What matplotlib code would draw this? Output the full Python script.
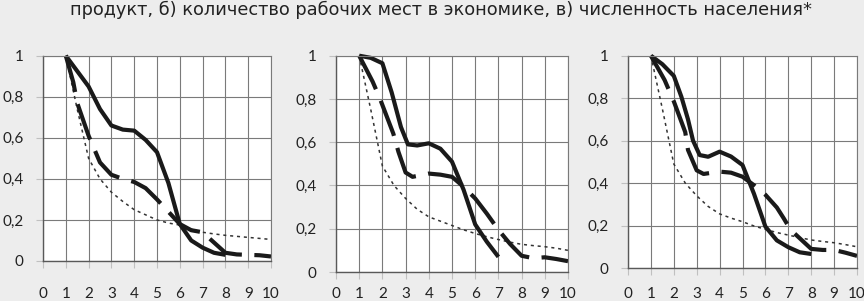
import matplotlib.pyplot as plt

title = "продукт, б) количество рабочих мест в экономике, в) численность населения*"
x_ticks = list(range(11))
y_ticks = [0, 0.2, 0.4, 0.6, 0.8, 1]
y_labels = ["0", "0,2", "0,4", "0,6", "0,8", "1"]

half = [1, 1.5, 2, 2.5, 3, 3.5, 4, 4.5, 5, 5.5, 6, 6.5, 7, 7.5, 8, 8.5, 9, 9.5, 10]

# а) panel
a_solid_x = [1, 1.5, 2, 2.5, 3, 3.5, 4, 4.5, 5, 5.5, 6, 6.5, 7, 7.5, 8]
a_solid_y = [1.0, 0.925, 0.85, 0.74, 0.66, 0.64, 0.635, 0.59, 0.53, 0.38, 0.18, 0.10, 0.065, 0.04, 0.03]
a_dash_x = [1, 1.33, 1.5, 2, 2.5, 3, 3.5, 4, 4.5, 5, 5.5, 6, 6.5, 7, 7.5, 8, 8.5, 9, 9.5, 10]
a_dash_y = [1.0, 0.87, 0.77, 0.61, 0.48, 0.42, 0.40, 0.385, 0.355, 0.30, 0.24, 0.18, 0.15, 0.14, 0.09,
            0.04, 0.032, 0.03, 0.028, 0.022]
a_dot_y = [1.0, 0.74, 0.5, 0.4, 0.335, 0.29, 0.25, 0.225, 0.2, 0.185, 0.175, 0.155, 0.14, 0.132, 0.125,
           0.12, 0.115, 0.11, 0.105]

# б) panel
b_solid_x = [1, 1.5, 2, 2.4, 2.8, 3.1, 3.5, 4, 4.5, 5, 5.5, 6, 6.5, 7]
b_solid_y = [1.0, 0.99, 0.965, 0.83, 0.67, 0.59, 0.585, 0.595, 0.57, 0.51, 0.38, 0.22, 0.14, 0.07]
b_dash_x = [1, 1.58, 1.9, 2.47, 2.69, 3, 3.3, 4, 4.5, 5, 5.5, 6, 6.5, 7, 7.5, 8, 8.5, 9, 9.5, 10]
b_dash_y = [1.0, 0.88, 0.80, 0.64, 0.556, 0.46, 0.44, 0.455, 0.45, 0.44, 0.394, 0.34, 0.27, 0.195, 0.13,
            0.075, 0.064, 0.068, 0.06, 0.05]
b_dot_y = [1.0, 0.75, 0.49, 0.4, 0.34, 0.29, 0.255, 0.235, 0.215, 0.195, 0.178, 0.163, 0.15, 0.138, 0.128,
           0.122, 0.117, 0.11, 0.10]

# в) panel
c_solid_x = [1, 1.5, 2, 2.33, 2.62, 2.84, 3.13, 3.5, 4, 4.5, 5, 5.5, 6, 6.5, 7, 7.5, 8]
c_solid_y = [1.0, 0.96, 0.905, 0.807, 0.70, 0.60, 0.532, 0.524, 0.548, 0.525, 0.485, 0.35, 0.195, 0.13,
             0.098, 0.074, 0.066]
c_dash_x = [1, 1.6, 2, 2.5, 2.62, 3, 3.3, 4, 4.5, 5, 5.5, 6, 6.5, 6.8, 7.1, 7.5, 8, 8.5, 9, 9.5, 10]
c_dash_y = [1.0, 0.885, 0.785, 0.64, 0.556, 0.46, 0.443, 0.454, 0.449, 0.43, 0.39, 0.345, 0.285, 0.234,
            0.18, 0.14, 0.09, 0.085, 0.085, 0.072, 0.057]
c_dot_y = [1.0, 0.75, 0.49, 0.4, 0.34, 0.29, 0.255, 0.235, 0.218, 0.198, 0.182, 0.167, 0.155, 0.143, 0.132,
           0.125, 0.119, 0.11, 0.10]

panels = [
    (a_solid_x, a_solid_y, a_dash_x, a_dash_y, a_dot_y),
    (b_solid_x, b_solid_y, b_dash_x, b_dash_y, b_dot_y),
    (c_solid_x, c_solid_y, c_dash_x, c_dash_y, c_dot_y),
]

W, H = 864, 301
# axes rectangles in pixels: left, bottom, width, height
rects = [(43, 40, 228, 205.3), (336, 29, 232, 216.3), (628, 33, 229, 212.3)]
xpads = [13.5, 5.8, 8.6]

bg = "#ededed"
fig = plt.figure(figsize=(W / 100, H / 100), dpi=100, facecolor=bg)

fig.text(441 / W, 1 - 10 / H, title, ha="center", va="center", fontsize=12.8,
         family=["Liberation Sans Narrow", "DejaVu Sans"], color="#222222")

for (sx, sy, dx, dy, ty), (l, b, w, h), xp in zip(panels, rects, xpads):
    ax = fig.add_axes([l / W, b / H, w / W, h / H])
    ax.set_facecolor("white")
    ax.set_xlim(0, 10)
    ax.set_ylim(0, 1)
    ax.set_xticks(x_ticks)
    ax.set_yticks(y_ticks)
    ax.set_yticklabels(y_labels)
    ax.grid(True, color="#7a7a7a", lw=0.8)
    ax.set_axisbelow(True)
    for side in ["top", "right"]:
        ax.spines[side].set_color("#7a7a7a")
        ax.spines[side].set_linewidth(0.8)
    for side in ["left", "bottom"]:
        ax.spines[side].set_color("#595959")
        ax.spines[side].set_linewidth(1.0)
    ax.tick_params(axis="both", direction="out", length=5, width=0.8, color="#c0c0c0",
                   labelsize=11, labelcolor="#222222")
    ax.tick_params(axis="y", pad=9)
    ax.tick_params(axis="x", pad=xp)
    for lab in ax.get_xticklabels() + ax.get_yticklabels():
        lab.set_family("Lato")

    ax.plot(half, ty, color="#333333", lw=1.1, dashes=(2, 2.5), clip_on=False)
    ax.plot(dx, dy, color="#1a1a1a", lw=3.0, dashes=(9, 3), dash_capstyle="butt", clip_on=False)
    ax.plot(sx, sy, color="#1a1a1a", lw=3.0, solid_joinstyle="round", solid_capstyle="butt",
            clip_on=False)

fig.savefig("out.png", dpi=100, facecolor=bg)
